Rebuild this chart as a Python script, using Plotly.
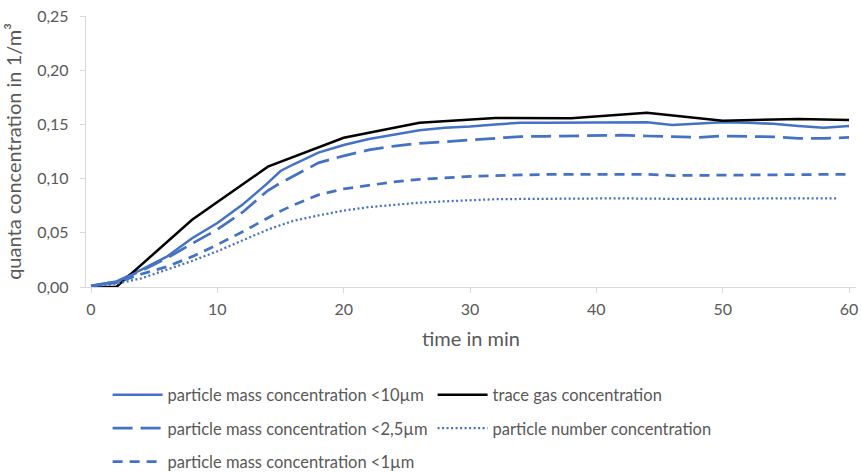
import plotly.graph_objects as go

# time axis (minutes) for the particle-based series
t_particle = [0, 2, 4, 6, 8, 10, 12, 14, 15, 16, 18, 20, 22, 24, 26, 28, 30,
              32, 34, 36, 38, 40, 42, 44, 46, 48, 50, 52, 54, 56, 58, 60]

pm10 = [0.001, 0.005, 0.016, 0.028, 0.045, 0.059, 0.076, 0.096, 0.107, 0.113,
        0.124, 0.131, 0.1365, 0.1405, 0.1445, 0.147, 0.148, 0.150, 0.1515,
        0.1515, 0.1515, 0.152, 0.1515, 0.152, 0.1495, 0.151, 0.152, 0.1515,
        0.1505, 0.1485, 0.147, 0.1485]

pm25 = [0.001, 0.005, 0.015, 0.0265, 0.040, 0.053, 0.069, 0.089, 0.096, 0.102,
        0.1145, 0.121, 0.1265, 0.130, 0.1325, 0.134, 0.1358, 0.1375, 0.1388,
        0.139, 0.1393, 0.140, 0.140, 0.1393, 0.1385, 0.138, 0.1393, 0.139,
        0.1385, 0.1372, 0.1372, 0.138]

pm1 = [0.0008, 0.004, 0.012, 0.0187, 0.028, 0.039, 0.051, 0.064, 0.070, 0.0755,
       0.085, 0.0905, 0.094, 0.097, 0.0993, 0.1008, 0.102, 0.1028, 0.1035,
       0.1038, 0.104, 0.104, 0.104, 0.104, 0.1028, 0.103, 0.103, 0.1035,
       0.1035, 0.104, 0.104, 0.104]

t_number = [0, 2, 4, 6, 8, 10, 12, 14, 15, 16, 18, 20, 22, 24, 26, 28, 30,
            32, 34, 36, 38, 40, 42, 44, 46, 48, 50, 52, 54, 56, 58, 59]
number_conc = [0.0005, 0.003, 0.008, 0.0157, 0.024, 0.033, 0.043, 0.053, 0.057,
               0.061, 0.066, 0.0705, 0.0737, 0.076, 0.0778, 0.079, 0.0803,
               0.081, 0.0812, 0.0815, 0.0818, 0.0818, 0.0818, 0.0815, 0.0812,
               0.0812, 0.0815, 0.0818, 0.0818, 0.0818, 0.0818, 0.0818]

# trace gas measured every 6 minutes
t_gas = [0, 2, 8, 14, 20, 26, 32, 38, 44, 50, 56, 60]
gas = [0.0, 0.0, 0.062, 0.111, 0.1377, 0.1516, 0.156, 0.1556, 0.1608, 0.1534,
       0.155, 0.154]

x_ticks = [0, 10, 20, 30, 40, 50, 60]
y_ticks = [0.0, 0.05, 0.10, 0.15, 0.20, 0.25]

BLUE = "#4472C4"
TEXT = "#595959"
AXIS = "#D9D9D9"
FONT = "Lato"

fig = go.Figure()

fig.add_trace(go.Scatter(
    x=t_particle, y=pm10, mode="lines", name="particle mass concentration <10µm",
    line=dict(color=BLUE, width=2.5), legend="legend"))
fig.add_trace(go.Scatter(
    x=t_gas, y=gas, mode="lines", name="trace gas concentration",
    line=dict(color="#000000", width=2.5), legend="legend"))
fig.add_trace(go.Scatter(
    x=t_particle, y=pm25, mode="lines", name="particle mass concentration <2,5µm",
    line=dict(color=BLUE, width=2.75, dash="20px,8px"), legend="legend2"))
fig.add_trace(go.Scatter(
    x=t_number, y=number_conc, mode="lines", name="particle number concentration",
    line=dict(color=BLUE, width=2.25, dash="2px,2.5px"), legend="legend2"))
fig.add_trace(go.Scatter(
    x=t_particle, y=pm1, mode="lines", name="particle mass concentration <1µm",
    line=dict(color=BLUE, width=2.75, dash="10px,7px"), legend="legend3"))

W, H = 862, 472
L, R, T, B = 86, 6, 16, 185


def row_y(py):
    # legend rows are placed in container coordinates (0 = bottom edge)
    return 1 - py / H


legend_common = dict(
    orientation="h", xref="container", yref="container",
    xanchor="left", yanchor="middle", x=107.6 / W,
    font=dict(family=FONT, size=16.5, color=TEXT),
    entrywidth=260, itemwidth=50, bgcolor="rgba(0,0,0,0)", traceorder="normal")

fig.update_layout(
    width=W, height=H,
    margin=dict(l=L, r=R, t=T, b=B, autoexpand=False),
    paper_bgcolor="white", plot_bgcolor="white",
    separators=",.",
    font=dict(family=FONT, color=TEXT),
    showlegend=True,
    legend=dict(legend_common, y=row_y(395)),
    legend2=dict(legend_common, y=row_y(428.5)),
    legend3=dict(legend_common, y=row_y(462)),
    xaxis=dict(
        range=[-0.396, 60.55], tickvals=x_ticks, ticks="outside", ticklen=5,
        tickcolor=AXIS, tickwidth=1.3, showgrid=False, zeroline=False,
        showline=True, linecolor=AXIS, linewidth=1.3, automargin=False,
        tickfont=dict(family=FONT, size=16, color=TEXT), ticklabelstandoff=3,
        title=dict(text="time in min", font=dict(family=FONT, size=20, color=TEXT),
                   standoff=14)),
    yaxis=dict(
        range=[0, 0.25], tickvals=y_ticks, tickformat=".2f", ticks="outside",
        ticklen=5, tickcolor=AXIS, tickwidth=1.3, showgrid=False, zeroline=False,
        showline=True, linecolor=AXIS, linewidth=1.3, automargin=False,
        tickfont=dict(family=FONT, size=16, color=TEXT), ticklabelstandoff=8,
        title=dict(text="quanta concentration in 1/m³",
                   font=dict(family=FONT, size=20, color=TEXT), standoff=10)),
)

fig.write_html("out.html")
